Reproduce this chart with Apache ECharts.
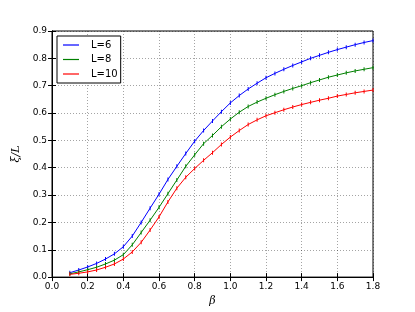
<!DOCTYPE html>
<html>
<head>
<meta charset="utf-8">
<script src="https://cdn.jsdelivr.net/npm/echarts@6/dist/echarts.min.js"></script>
<style>html,body{margin:0;padding:0;background:#fff}#c{width:415px;height:312px}</style>
</head>
<body>
<div id="c"></div>
<script>
const beta = [0.10,0.15,0.20,0.25,0.30,0.35,0.40,0.45,0.50,0.55,0.60,0.65,0.70,0.75,0.80,0.85,0.90,0.95,1.00,1.05,1.10,1.15,1.20,1.25,1.30,1.35,1.40,1.45,1.50,1.55,1.60,1.65,1.70,1.75,1.80];
const L6  = [0.016,0.026,0.037,0.050,0.066,0.085,0.111,0.150,0.200,0.252,0.303,0.357,0.405,0.452,0.497,0.536,0.571,0.605,0.637,0.664,0.688,0.709,0.729,0.745,0.760,0.774,0.787,0.800,0.811,0.822,0.832,0.841,0.850,0.858,0.865];
const L8  = [0.012,0.019,0.027,0.036,0.048,0.062,0.082,0.118,0.163,0.208,0.255,0.305,0.355,0.405,0.447,0.488,0.518,0.550,0.578,0.603,0.624,0.640,0.654,0.667,0.679,0.690,0.700,0.711,0.721,0.731,0.739,0.747,0.754,0.760,0.766];
const L10 = [0.010,0.014,0.019,0.026,0.036,0.048,0.066,0.092,0.127,0.172,0.220,0.275,0.325,0.365,0.397,0.427,0.455,0.485,0.512,0.536,0.558,0.575,0.590,0.601,0.612,0.622,0.631,0.639,0.647,0.654,0.662,0.668,0.674,0.679,0.684];
const seriesNames = ['L=6','L=8','L=10'];
const seriesData = [L6, L8, L10];
const colors = ['#0000ff','#008000','#ff0000'];
const xTicks = ['0.0','0.2','0.4','0.6','0.8','1.0','1.2','1.4','1.6','1.8'];

const chart = echarts.init(document.getElementById('c'), null, {renderer:'canvas'});
const font = 'DejaVu Sans';
const gridLine = {show:true, lineStyle:{color:'#000', type:[1,2], width:0.6, opacity:0.6}};
chart.setOption({
  animation:false,
  backgroundColor:'#fff',
  color: colors,
  grid:{left:52, right:42, top:31, bottom:32, show:true, borderColor:'#000', borderWidth:1},
  legend:{
    orient:'vertical', left:57, top:36,
    data: seriesNames.map((n,i)=>({name:n, icon:'rect', itemStyle:{color:colors[i], borderWidth:0}})),
    borderColor:'#000', borderWidth:1, padding:[4,3,4,6], itemGap:4.5,
    itemWidth:16, itemHeight:1.2,
    backgroundColor:'#fff',
    textStyle:{fontFamily:font, fontSize:10, color:'#000', padding:[0,0,0,7], lineHeight:10, height:10}
  },
  xAxis:[{
    type:'value', min:0, max:1.8, interval:0.2,
    name:'β', nameLocation:'middle', nameGap:18,
    nameTextStyle:{fontFamily:'DejaVu Serif', fontStyle:'italic', fontSize:11, color:'#000'},
    axisLine:{show:true, lineStyle:{color:'#000'}},
    axisTick:{show:true, inside:true, length:4, lineStyle:{color:'#000'}},
    axisLabel:{fontFamily:font, fontSize:9, color:'#000', margin:5, formatter:(v)=>xTicks[Math.round(v/0.2)] || v.toFixed(1)},
    splitLine:gridLine
  },{
    type:'value', min:0, max:1.8, interval:0.2, position:'top',
    axisLine:{show:true, lineStyle:{color:'#000'}},
    axisTick:{show:true, inside:true, length:4, lineStyle:{color:'#000'}},
    axisLabel:{show:false}, splitLine:{show:false}
  }],
  yAxis:[{
    type:'value', min:0, max:0.9, interval:0.1,
    name:'ξ/L', nameLocation:'middle', nameGap:28, nameRotate:90,
    nameTextStyle:{fontFamily:'DejaVu Serif', fontStyle:'italic', fontSize:11, color:'#000'},
    axisLine:{show:true, lineStyle:{color:'#000'}},
    axisTick:{show:true, inside:true, length:4, lineStyle:{color:'#000'}},
    axisLabel:{fontFamily:font, fontSize:9, color:'#000', margin:5, formatter:(v)=>v.toFixed(1)},
    splitLine:gridLine
  },{
    type:'value', min:0, max:0.9, interval:0.1, position:'right',
    axisLine:{show:true, lineStyle:{color:'#000'}},
    axisTick:{show:true, inside:true, length:4, lineStyle:{color:'#000'}},
    axisLabel:{show:false}, splitLine:{show:false}
  }],
  series: seriesNames.map((n,i)=>({
    name:n, type:'line', xAxisIndex:0, yAxisIndex:0,
    data: beta.map((b,j)=>[b, seriesData[i][j]]),
    showSymbol:true, showAllSymbol:true, symbol:'rect', symbolSize:[1,4],
    itemStyle:{color:colors[i]},
    lineStyle:{color:colors[i], width:1},
    smooth:false
  }))
});
</script>
</body>
</html>
